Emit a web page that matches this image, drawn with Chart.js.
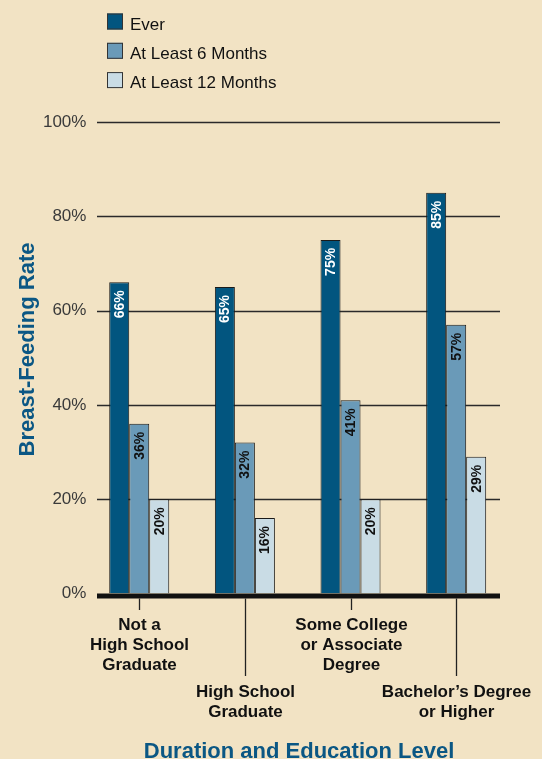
<!DOCTYPE html>
<html>
<head>
<meta charset="utf-8">
<script src="https://cdn.jsdelivr.net/npm/chart.js@4/dist/chart.umd.min.js"></script>
<style>
    html, body { margin: 0; padding: 0; background: #f2e3c4; }
    #wrap { width: 542px; height: 759px; }
</style>
</head>
<body>
<div id="wrap"><canvas id="evoChart" width="542" height="759"></canvas></div>
<script>
// data
const categories = [
    ["Not a", "High School", "Graduate"],
    ["High School", "Graduate"],
    ["Some College", "or Associate", "Degree"],
    ["Bachelor’s Degree", "or Higher"]
];
const seriesNames = ["Ever", "At Least 6 Months", "At Least 12 Months"];
const everValues = [66, 65, 75, 85];
const sixMonthValues = [36, 32, 41, 57];
const twelveMonthValues = [20, 16, 20, 29];
const yTicks = [0, 20, 40, 60, 80, 100];
const yTitle = "Breast-Feeding Rate";
const xTitle = "Duration and Education Level";

const FONT = "'Liberation Sans', Arial, Helvetica, sans-serif";
const BLUE_TEXT = "#0b5784";
const colors = ["#02557f", "#6a9ab8", "#c9dce5"];
const labelColors = ["#ffffff", "#111111", "#111111"];

const decorations = {
    id: "decorations",
    beforeDatasetsDraw(chart) {
        const ctx = chart.ctx;
        const y = chart.scales.y;
        ctx.save();
        ctx.strokeStyle = "#2a2a2a";
        ctx.lineWidth = 1.3;
        yTicks.filter(v => v > 0).forEach(v => {
            const py = Math.round(y.getPixelForValue(v)) + 0.5;
            ctx.beginPath();
            ctx.moveTo(97, py);
            ctx.lineTo(500, py);
            ctx.stroke();
        });
        ctx.restore();
    },
    afterDatasetsDraw(chart) {
        const ctx = chart.ctx;
        const x = chart.scales.x;
        const y = chart.scales.y;
        const base = y.getPixelForValue(0);
        ctx.save();

        // thick baseline
        ctx.fillStyle = "#111";
        ctx.fillRect(97, base, 403, 5);

        // values inside the bars
        ctx.font = `bold 14px ${FONT}`;
        ctx.textAlign = "right";
        ctx.textBaseline = "middle";
        chart.data.datasets.forEach((ds, i) => {
            chart.getDatasetMeta(i).data.forEach((bar, j) => {
                ctx.save();
                ctx.translate(bar.x + 0.5, bar.y + 8);
                ctx.rotate(-Math.PI / 2);
                ctx.fillStyle = labelColors[i];
                ctx.fillText(ds.data[j] + "%", 0, 0);
                ctx.restore();
            });
        });

        // staggered category labels with tick lines
        ctx.strokeStyle = "#222";
        ctx.lineWidth = 1.3;
        ctx.fillStyle = "#111";
        ctx.font = `bold 17px ${FONT}`;
        ctx.textAlign = "center";
        ctx.textBaseline = "alphabetic";
        categories.forEach((lines, i) => {
            const cx = Math.round(x.getPixelForValue(i)) + 0.5;
            const low = i % 2 === 1;
            ctx.beginPath();
            ctx.moveTo(cx, base + 5);
            ctx.lineTo(cx, low ? 676 : 610);
            ctx.stroke();
            const first = low ? 697 : 630;
            lines.forEach((t, k) => ctx.fillText(t, cx, first + k * 20));
        });

        // legend
        ctx.font = `17px ${FONT}`;
        ctx.textAlign = "left";
        chart.data.datasets.forEach((ds, i) => {
            const top = 13.5 + i * 29.3;
            ctx.fillStyle = ds.backgroundColor;
            ctx.fillRect(107, top, 16, 16);
            ctx.strokeStyle = "#333";
            ctx.lineWidth = 1;
            ctx.strokeRect(107.5, top + 0.5, 15, 15);
            ctx.fillStyle = "#111";
            ctx.fillText(ds.label, 130, top + 16);
        });

        // axis titles
        ctx.fillStyle = BLUE_TEXT;
        ctx.font = `bold 22px ${FONT}`;
        ctx.textAlign = "center";
        ctx.fillText(xTitle, 299, 757.5);
        ctx.save();
        ctx.translate(33.5, 349.5);
        ctx.rotate(-Math.PI / 2);
        ctx.fillText(yTitle, 0, 0);
        ctx.restore();

        ctx.restore();
    }
};

const ctx = document.getElementById("evoChart").getContext("2d");
new Chart(ctx, {
    type: "bar",
    data: {
        labels: categories,
        datasets: [everValues, sixMonthValues, twelveMonthValues].map((vals, i) => ({
            label: seriesNames[i],
            data: vals,
            backgroundColor: colors[i],
            borderColor: "#1a1a1a",
            borderWidth: 1,
            borderSkipped: "bottom",
            categoryPercentage: 0.568,
            barPercentage: 1
        }))
    },
    options: {
        responsive: false,
        animation: false,
        layout: { padding: { top: 122, right: 33, bottom: 165.5, left: 0 } },
        plugins: {
            legend: { display: false },
            tooltip: { enabled: false }
        },
        scales: {
            x: { display: false },
            y: {
                min: 0,
                max: 100,
                afterFit: s => { s.width = 86.4; },
                afterBuildTicks: s => { s.ticks = yTicks.map(v => ({ value: v })); },
                grid: { display: false, drawTicks: false },
                border: { display: false },
                ticks: {
                    padding: 0,
                    color: "#3a3a3a",
                    font: { family: FONT, size: 17 },
                    callback: v => v + "%"
                }
            }
        }
    },
    plugins: [decorations]
});
</script>
</body>
</html>
